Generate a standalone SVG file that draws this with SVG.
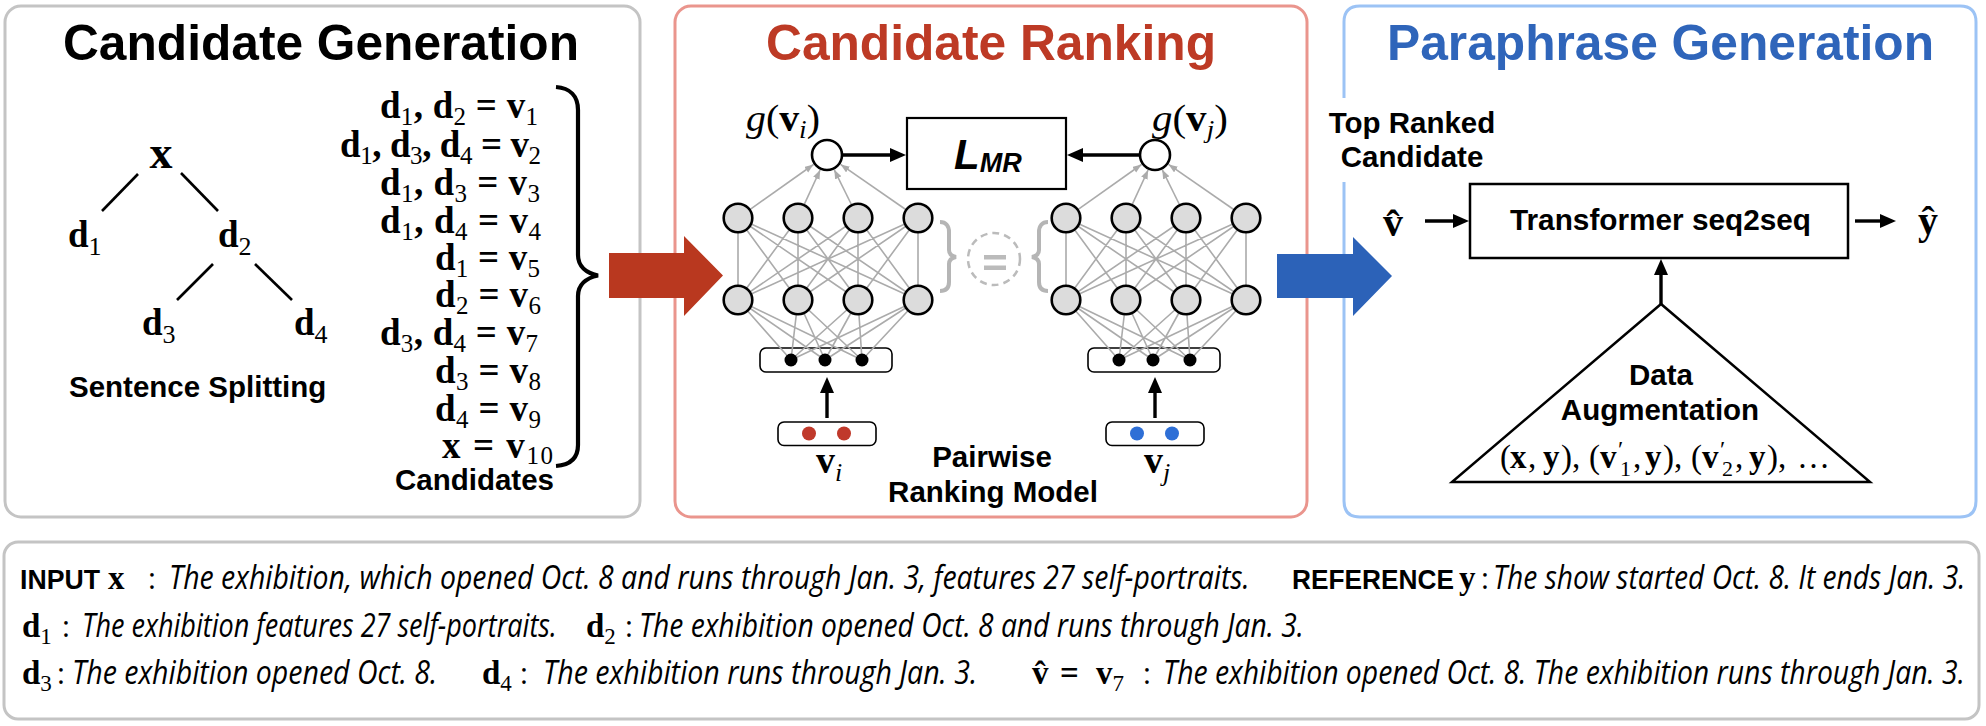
<svg xmlns="http://www.w3.org/2000/svg" width="1986" height="726" viewBox="0 0 1986 726">
<style>
.title{font-family:"Liberation Sans",Arial,sans-serif;font-weight:bold;font-size:49.5px}
.lbl{font-family:"Liberation Sans",Arial,sans-serif;font-weight:bold;font-size:29.5px;fill:#000}
.m{font-family:"Liberation Serif","Times New Roman",serif;fill:#000}
.mb{font-family:"Liberation Serif","Times New Roman",serif;font-weight:bold;fill:#000}
.s{font-weight:normal}
.i{font-style:italic}
.desc{font-family:"Open Sans","Noto Sans",sans-serif;font-style:italic;font-size:33px;fill:#000}
.col{font-family:"Open Sans","Noto Sans",sans-serif;font-size:30px;fill:#000}
.key{font-family:"Liberation Sans",Arial,sans-serif;font-weight:bold;font-size:27px;fill:#000}
.net{stroke:#ababab;stroke-width:1.6;fill:none}
.node{fill:#dcdcdc;stroke:#000;stroke-width:2.6}
.blk{stroke:#000;stroke-width:3.4;fill:none}
.tree{stroke:#000;stroke-width:2.6}
</style>
<defs>
<marker id="ah" markerUnits="userSpaceOnUse" markerWidth="17" markerHeight="15" refX="5" refY="7" orient="auto"><path d="M0,0L16,7L0,14z" fill="#000"/></marker>
<marker id="gh" markerUnits="userSpaceOnUse" markerWidth="10" markerHeight="8" refX="9" refY="3.5" orient="auto"><path d="M0,0L9,3.5L0,7z" fill="#ababab"/></marker>
<g id="ffn">
<rect x="760" y="348" width="132" height="24" rx="6" fill="#fff" stroke="#000" stroke-width="1.6"/>
<path class="net" d="M738,218L738,300M738,218L798,300M738,218L858,300M738,218L918,300M798,218L738,300M798,218L798,300M798,218L858,300M798,218L918,300M858,218L738,300M858,218L798,300M858,218L858,300M858,218L918,300M918,218L738,300M918,218L798,300M918,218L858,300M918,218L918,300"/>
<path class="net" d="M738,300L791,360M738,300L825,360M738,300L862,360M798,300L791,360M798,300L825,360M798,300L862,360M858,300L791,360M858,300L825,360M858,300L862,360M918,300L791,360M918,300L825,360M918,300L862,360"/>
<line class="net" x1="750.2" y1="209.3" x2="813.5" y2="164.5" marker-end="url(#gh)"/>
<line class="net" x1="804.3" y1="204.4" x2="820.1" y2="170" marker-end="url(#gh)"/>
<line class="net" x1="851.4" y1="204.5" x2="834.3" y2="169.8" marker-end="url(#gh)"/>
<line class="net" x1="905.7" y1="209.5" x2="840.6" y2="164.4" marker-end="url(#gh)"/>
<circle cx="791" cy="360" r="6.5" fill="#000"/>
<circle cx="825" cy="360" r="6.5" fill="#000"/>
<circle cx="862" cy="360" r="6.5" fill="#000"/>
<circle class="node" cx="738" cy="218" r="14.3"/>
<circle class="node" cx="798" cy="218" r="14.3"/>
<circle class="node" cx="858" cy="218" r="14.3"/>
<circle class="node" cx="918" cy="218" r="14.3"/>
<circle class="node" cx="738" cy="300" r="14.3"/>
<circle class="node" cx="798" cy="300" r="14.3"/>
<circle class="node" cx="858" cy="300" r="14.3"/>
<circle class="node" cx="918" cy="300" r="14.3"/>
<circle cx="827" cy="155" r="15" fill="#fff" stroke="#000" stroke-width="2.6"/>
<rect x="778" y="422" width="98" height="23.5" rx="6" fill="#fff" stroke="#000" stroke-width="1.6"/>
</g>
</defs>
<rect width="1986" height="726" fill="#fff"/>

<!-- panels -->
<g id="panel-generation">
<rect x="5" y="6" width="635" height="511" rx="16" fill="none" stroke="#c4c4c4" stroke-width="3"/>
<text class="title" x="63" y="60" textLength="516" lengthAdjust="spacingAndGlyphs" fill="#000">Candidate Generation</text>
</g>
<g id="panel-ranking">
<rect x="675" y="6" width="632" height="511" rx="16" fill="none" stroke="#ea958d" stroke-width="3"/>
<text class="title" x="766" y="60" textLength="450" lengthAdjust="spacingAndGlyphs" fill="#bd3a25">Candidate Ranking</text>
</g>
<g id="panel-paraphrase">
<path d="M1344,98L1344,22Q1344,6 1360,6L1960,6Q1976,6 1976,22L1976,501Q1976,517 1960,517L1360,517Q1344,517 1344,501L1344,182" fill="none" stroke="#9cc3f5" stroke-width="3"/>
<text class="title" x="1387" y="60" textLength="547" lengthAdjust="spacingAndGlyphs" fill="#2f65ba">Paraphrase Generation</text>
</g>

<!-- sentence splitting tree -->
<g id="tree">
<g class="tree">
<line x1="138" y1="174" x2="102" y2="211"/>
<line x1="181" y1="173" x2="218" y2="211"/>
<line x1="213" y1="264" x2="177" y2="300"/>
<line x1="255" y1="264" x2="292" y2="300"/>
</g>
<text class="mb" x="161" y="168" font-size="46" text-anchor="middle">x</text>
<text class="mb" x="68" y="247" font-size="37">d<tspan class="s" font-size="26" dy="8">1</tspan></text>
<text class="mb" x="218" y="247" font-size="37">d<tspan class="s" font-size="26" dy="8">2</tspan></text>
<text class="mb" x="142" y="335" font-size="37">d<tspan class="s" font-size="26" dy="8">3</tspan></text>
<text class="mb" x="294" y="335" font-size="37">d<tspan class="s" font-size="26" dy="8">4</tspan></text>
<text class="lbl" x="69" y="397" font-size="30">Sentence Splitting</text>
</g>

<!-- candidates -->
<g id="candidates" font-size="37">
<text class="mb" x="380" y="118" textLength="158" lengthAdjust="spacing">d<tspan class="s" font-size="25" dy="7">1</tspan><tspan dy="-7">, d</tspan><tspan class="s" font-size="25" dy="7">2</tspan><tspan dy="-7"> = v</tspan><tspan class="s" font-size="25" dy="7">1</tspan></text>
<text class="mb" x="340" y="157" textLength="201" lengthAdjust="spacing">d<tspan class="s" font-size="25" dy="7">1</tspan><tspan dy="-7">, d</tspan><tspan class="s" font-size="25" dy="7">3</tspan><tspan dy="-7">, d</tspan><tspan class="s" font-size="25" dy="7">4</tspan><tspan dy="-7"> = v</tspan><tspan class="s" font-size="25" dy="7">2</tspan></text>
<text class="mb" x="380" y="195" textLength="160" lengthAdjust="spacing">d<tspan class="s" font-size="25" dy="7">1</tspan><tspan dy="-7">, d</tspan><tspan class="s" font-size="25" dy="7">3</tspan><tspan dy="-7"> = v</tspan><tspan class="s" font-size="25" dy="7">3</tspan></text>
<text class="mb" x="380" y="233" textLength="161" lengthAdjust="spacing">d<tspan class="s" font-size="25" dy="7">1</tspan><tspan dy="-7">, d</tspan><tspan class="s" font-size="25" dy="7">4</tspan><tspan dy="-7"> = v</tspan><tspan class="s" font-size="25" dy="7">4</tspan></text>
<text class="mb" x="435" y="270" textLength="105" lengthAdjust="spacing">d<tspan class="s" font-size="25" dy="7">1</tspan><tspan dy="-7"> = v</tspan><tspan class="s" font-size="25" dy="7">5</tspan></text>
<text class="mb" x="435" y="307" textLength="106" lengthAdjust="spacing">d<tspan class="s" font-size="25" dy="7">2</tspan><tspan dy="-7"> = v</tspan><tspan class="s" font-size="25" dy="7">6</tspan></text>
<text class="mb" x="380" y="345" textLength="158" lengthAdjust="spacing">d<tspan class="s" font-size="25" dy="7">3</tspan><tspan dy="-7">, d</tspan><tspan class="s" font-size="25" dy="7">4</tspan><tspan dy="-7"> = v</tspan><tspan class="s" font-size="25" dy="7">7</tspan></text>
<text class="mb" x="435" y="383" textLength="106" lengthAdjust="spacing">d<tspan class="s" font-size="25" dy="7">3</tspan><tspan dy="-7"> = v</tspan><tspan class="s" font-size="25" dy="7">8</tspan></text>
<text class="mb" x="435" y="421" textLength="106" lengthAdjust="spacing">d<tspan class="s" font-size="25" dy="7">4</tspan><tspan dy="-7"> = v</tspan><tspan class="s" font-size="25" dy="7">9</tspan></text>
<text class="mb" x="442" y="458" textLength="111" lengthAdjust="spacing">x = v<tspan class="s" font-size="25" dy="6">10</tspan></text>
<path d="M556,87C570,88 578,96 578,110L578,255C578,266 586,273 598,275.5C586,278 578,285 578,296L578,445C578,458 570,465 556,466" fill="none" stroke="#000" stroke-width="4.2"/>
<text class="lbl" x="395" y="490">Candidates</text>
</g>

<!-- pairwise ranking model -->
<g id="model-i"><use href="#ffn"/>
<circle cx="809" cy="433.5" r="7" fill="#c0392b"/><circle cx="844" cy="433.5" r="7" fill="#c0392b"/>
<text class="mb" x="816" y="473" font-size="38">v<tspan class="s i" font-size="26" dy="8">i</tspan></text>
<text class="m" x="746" y="131" font-size="38" textLength="74" lengthAdjust="spacingAndGlyphs"><tspan class="i">g</tspan>(<tspan class="mb">v</tspan><tspan class="i" font-size="26" dy="7">i</tspan><tspan dy="-7">)</tspan></text>
</g>
<g id="model-j"><use href="#ffn" transform="translate(328,0)"/>
<circle cx="1137" cy="433.5" r="7" fill="#2e6fd6"/><circle cx="1172" cy="433.5" r="7" fill="#2e6fd6"/>
<text class="mb" x="1144" y="473" font-size="38">v<tspan class="s i" font-size="26" dy="8">j</tspan></text>
<text class="m" x="1152" y="131" font-size="38" textLength="76" lengthAdjust="spacingAndGlyphs"><tspan class="i">g</tspan>(<tspan class="mb">v</tspan><tspan class="i" font-size="26" dy="7">j</tspan><tspan dy="-7">)</tspan></text>
</g>
<g id="loss">
<rect x="907" y="118" width="159" height="71" fill="#fff" stroke="#000" stroke-width="2.2"/>
<text x="954" y="169" font-family="Liberation Sans, Arial, sans-serif" font-weight="bold" font-style="italic" font-size="42">L<tspan font-size="27" dy="3">MR</tspan></text>
</g>
<g id="siamese">
<path d="M940,222C946,222 949,226 949,232L949,250C949,254 951,256 956,257C951,258 949,260 949,264L949,282C949,288 946,291 940,291" fill="none" stroke="#b5b5b5" stroke-width="4"/>
<path d="M1048,222C1042,222 1039,226 1039,232L1039,250C1039,254 1037,256 1032,257C1037,258 1039,260 1039,264L1039,282C1039,288 1042,291 1048,291" fill="none" stroke="#b5b5b5" stroke-width="4"/>
<circle cx="994" cy="259" r="26" fill="none" stroke="#bbb" stroke-width="2.5" stroke-dasharray="7 5"/>
<rect x="984" y="255" width="22" height="4.5" fill="#bbb"/>
<rect x="984" y="265.5" width="22" height="4.5" fill="#bbb"/>
</g>
<g id="model-label">
<text class="lbl" x="992" y="467" text-anchor="middle">Pairwise</text>
<text class="lbl" x="993" y="502" text-anchor="middle">Ranking Model</text>
</g>

<!-- paraphrase generation -->
<g id="top-ranked">
<text class="lbl" x="1412" y="133" text-anchor="middle">Top Ranked</text>
<text class="lbl" x="1412" y="167" text-anchor="middle">Candidate</text>
<text class="mb" x="1383" y="236" font-size="40">v̂</text>
</g>
<g id="transformer">
<rect x="1470" y="184" width="378" height="74" fill="#fff" stroke="#000" stroke-width="2.5"/>
<text class="lbl" x="1510" y="230" textLength="301" lengthAdjust="spacingAndGlyphs">Transformer seq2seq</text>
</g>
<g id="output-y">
<text class="mb" x="1918" y="234" font-size="40">ŷ</text>
</g>
<g id="augmentation">
<polygon points="1661,304 1452,482 1870,482" fill="none" stroke="#000" stroke-width="2.5"/>
<text class="lbl" x="1661" y="385" text-anchor="middle">Data</text>
<text class="lbl" x="1660" y="420" text-anchor="middle">Augmentation</text>
<text class="m" y="468" font-size="33"><tspan x="1500">(</tspan><tspan class="mb" x="1510">x</tspan><tspan x="1528">,</tspan><tspan class="mb" x="1543">y</tspan><tspan x="1561">),</tspan><tspan x="1589">(</tspan><tspan class="mb" x="1600">v</tspan><tspan x="1618" y="457" font-size="24">′</tspan><tspan x="1620" y="476" font-size="22">1</tspan><tspan x="1633" y="468">,</tspan><tspan class="mb" x="1645">y</tspan><tspan x="1663">),</tspan><tspan x="1691">(</tspan><tspan class="mb" x="1702">v</tspan><tspan x="1720" y="457" font-size="24">′</tspan><tspan x="1722" y="476" font-size="22">2</tspan><tspan x="1735" y="468">,</tspan><tspan class="mb" x="1749">y</tspan><tspan x="1767">),</tspan><tspan x="1797">…</tspan></text>
</g>

<!-- connectors -->
<g id="connectors">
<polygon points="609,253 684,253 684,236 723,275.5 684,316 684,298 609,298" fill="#b9381f"/>
<polygon points="1277,254 1353,254 1353,237 1392,276 1353,316 1353,298 1277,298" fill="#2c62b8"/>
<line class="blk" x1="842" y1="155" x2="895" y2="155" marker-end="url(#ah)"/>
<line class="blk" x1="1140" y1="155" x2="1078" y2="155" marker-end="url(#ah)"/>
<line class="blk" x1="827" y1="418" x2="827" y2="388" marker-end="url(#ah)"/>
<line class="blk" x1="1155" y1="418" x2="1155" y2="388" marker-end="url(#ah)"/>
<line class="blk" x1="1425" y1="221" x2="1458" y2="221" marker-end="url(#ah)"/>
<line class="blk" x1="1855" y1="221" x2="1885" y2="221" marker-end="url(#ah)"/>
<line class="blk" x1="1661" y1="304" x2="1661" y2="270" marker-end="url(#ah)"/>
</g>

<!-- example box -->
<g id="example">
<rect x="4" y="542" width="1975" height="177" rx="14" fill="none" stroke="#c4c4c4" stroke-width="3"/>
<text class="key" x="20" y="589" textLength="80" lengthAdjust="spacingAndGlyphs">INPUT</text>
<text class="mb" x="108" y="589" font-size="33">x</text>
<text class="col" x="148" y="589">:</text>
<text class="desc" transform="translate(169,589) scale(0.83,1)" textLength="1302" lengthAdjust="spacingAndGlyphs">The exhibition, which opened Oct. 8 and runs through Jan. 3, features 27 self-portraits.</text>
<text class="key" x="1292" y="589" textLength="162" lengthAdjust="spacingAndGlyphs">REFERENCE</text>
<text class="mb" x="1459" y="589" font-size="33">y</text>
<text class="col" x="1481" y="589">:</text>
<text class="desc" transform="translate(1493,589) scale(0.83,1)" textLength="569" lengthAdjust="spacingAndGlyphs">The show started Oct. 8. It ends Jan. 3.</text>

<text class="mb" x="22" y="637" font-size="33">d<tspan class="s" font-size="23" dy="7">1</tspan></text>
<text class="col" x="62" y="637">:</text>
<text class="desc" transform="translate(82,637) scale(0.83,1)" textLength="572" lengthAdjust="spacingAndGlyphs">The exhibition features 27 self-portraits.</text>
<text class="mb" x="586" y="637" font-size="33">d<tspan class="s" font-size="23" dy="7">2</tspan></text>
<text class="col" x="625" y="637">:</text>
<text class="desc" transform="translate(639,637) scale(0.83,1)" textLength="801" lengthAdjust="spacingAndGlyphs">The exhibition opened Oct. 8 and runs through Jan. 3.</text>

<text class="mb" x="22" y="684" font-size="33">d<tspan class="s" font-size="23" dy="7">3</tspan></text>
<text class="col" x="57" y="684">:</text>
<text class="desc" transform="translate(72,684) scale(0.83,1)" textLength="440" lengthAdjust="spacingAndGlyphs">The exhibition opened Oct. 8.</text>
<text class="mb" x="482" y="684" font-size="33">d<tspan class="s" font-size="23" dy="7">4</tspan></text>
<text class="col" x="520" y="684">:</text>
<text class="desc" transform="translate(543,684) scale(0.83,1)" textLength="523" lengthAdjust="spacingAndGlyphs">The exhibition runs through Jan. 3.</text>
<text class="mb" x="1032" y="684" font-size="33">v̂<tspan x="1060">=</tspan><tspan x="1096">v</tspan><tspan class="s" font-size="23" dy="7">7</tspan></text>
<text class="col" x="1143" y="684">:</text>
<text class="desc" transform="translate(1163,684) scale(0.83,1)" textLength="966" lengthAdjust="spacingAndGlyphs">The exhibition opened Oct. 8. The exhibition runs through Jan. 3.</text>
</g>
</svg>
